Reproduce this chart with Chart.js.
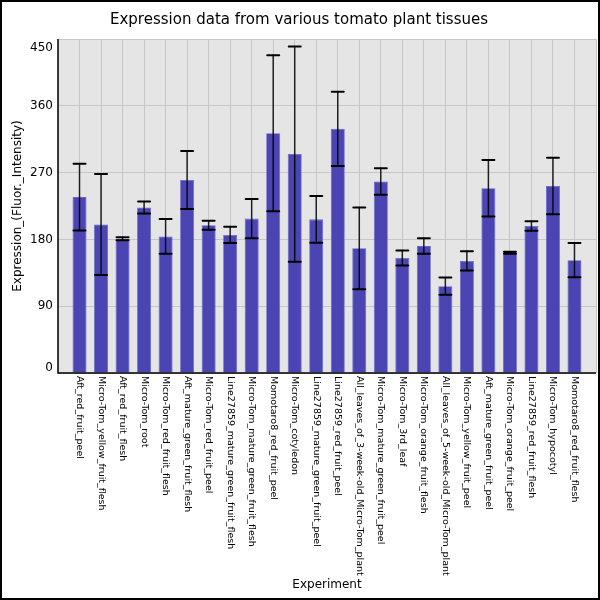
<!DOCTYPE html>
<html>
<head>
<meta charset="utf-8">
<script src="https://cdn.jsdelivr.net/npm/chart.js@4/dist/chart.umd.min.js"></script>
<style>
  body { margin: 0; background: #fff; }
  #wrap { width: 600px; height: 600px; }
</style>
</head>
<body>
<div id="wrap"><canvas id="grafica" width="600" height="600"></canvas></div>
<script>
// datos
const experimentos = [
  "Aft_red_fruit_peel", "Micro-Tom_yellow_fruit_flesh", "Aft_red_fruit_flesh",
  "Micro-Tom_root", "Micro-Tom_red_fruit_flesh", "Aft_mature_green_fruit_flesh",
  "Micro-Tom_red_fruit_peel", "Line27859_mature_green_fruit_flesh",
  "Micro-Tom_mature_green_fruit_flesh", "Momotaro8_red_fruit_peel",
  "Micro-Tom_cotyledon", "Line27859_mature_green_fruit_peel",
  "Line27859_red_fruit_peel", "All_leaves_of_3-week-old_Micro-Tom_plant",
  "Micro-Tom_mature_green_fruit_peel", "Micro-Tom_3rd_leaf",
  "Micro-Tom_orange_fruit_flesh", "All_leaves_of_5-week-old_Micro-Tom_plant",
  "Micro-Tom_yellow_fruit_peel", "Aft_mature_green_fruit_peel",
  "Micro-Tom_orange_fruit_peel", "Line27859_red_fruit_flesh",
  "Micro-Tom_hypocotyl", "Momotaro8_red_fruit_flesh"
];
const valores = [237, 200, 181, 223, 184, 260, 199, 186, 208, 323, 295, 207,
                 329, 168, 258, 155, 171, 117, 151, 249, 162, 198, 252, 152];
const errores = [45, 68, 2, 8, 23.5, 39, 6, 11, 26.5, 105, 145, 31.5,
                 50, 55, 18, 10, 10.5, 11.5, 13, 38, 1.2, 6.5, 38, 23];
const ticksY = [0, 90, 180, 270, 360, 450];

const fuente = "'DejaVu Sans', sans-serif";

// fondo, marco y area del grafico
const fondoPlugin = {
  id: "fondo",
  beforeDraw(chart) {
    const ctx = chart.ctx;
    const a = chart.chartArea;
    ctx.save();
    ctx.fillStyle = "#ffffff";
    ctx.fillRect(0, 0, chart.width, chart.height);
    ctx.fillStyle = "#e5e5e5";
    ctx.fillRect(a.left, a.top, a.right - a.left, a.bottom - a.top);
    ctx.restore();
  },
  afterDraw(chart) {
    const ctx = chart.ctx;
    ctx.save();
    ctx.strokeStyle = "#000";
    ctx.lineWidth = 2;
    ctx.strokeRect(1, 1, chart.width - 2, chart.height - 2);
    ctx.restore();
  }
};

// barras de error, ejes y etiquetas
const errorPlugin = {
  id: "errores",
  afterDatasetsDraw(chart) {
    const ctx = chart.ctx;
    const y = chart.scales.y;
    const x = chart.scales.x;
    const a = chart.chartArea;
    const meta = chart.getDatasetMeta(0);
    ctx.save();
    meta.data.forEach((bar, i) => {
      const yTop = y.getPixelForValue(valores[i] + errores[i]);
      const yBot = y.getPixelForValue(valores[i] - errores[i]);
      ctx.strokeStyle = "rgba(0,0,0,0.85)";
      ctx.lineWidth = 1.5;
      ctx.beginPath();
      ctx.moveTo(bar.x, yTop);
      ctx.lineTo(bar.x, yBot);
      ctx.stroke();
      ctx.strokeStyle = "#000";
      ctx.lineWidth = 2;
      ctx.lineCap = "round";
      ctx.beginPath();
      ctx.moveTo(bar.x - 6, yTop); ctx.lineTo(bar.x + 6, yTop);
      ctx.moveTo(bar.x - 6, yBot); ctx.lineTo(bar.x + 6, yBot);
      ctx.stroke();
    });

    // ejes
    ctx.strokeStyle = "#000";
    ctx.lineWidth = 1.5;
    ctx.lineCap = "butt";
    ctx.beginPath();
    ctx.moveTo(a.left, a.top);
    ctx.lineTo(a.left, a.bottom);
    ctx.lineTo(a.right, a.bottom);
    ctx.stroke();

    // etiquetas eje y
    ctx.fillStyle = "#000";
    ctx.font = "12px " + fuente;
    ctx.textAlign = "right";
    ticksY.forEach((v, i) => {
      let py = y.getPixelForValue(v);
      if (i === 0) { ctx.textBaseline = "bottom"; py += 1; }
      else if (i === ticksY.length - 1) { ctx.textBaseline = "top"; py += 3; }
      else ctx.textBaseline = "middle";
      ctx.fillText(String(v), a.left - 5, py);
    });

    // etiquetas eje x (giradas)
    ctx.font = "9.5px " + fuente;
    ctx.textAlign = "left";
    ctx.textBaseline = "middle";
    experimentos.forEach((nombre, i) => {
      const px = x.getPixelForValue(i);
      ctx.save();
      ctx.translate(px, a.bottom + 3);
      ctx.rotate(Math.PI / 2);
      ctx.fillText(nombre, 0, 0);
      ctx.restore();
    });
    ctx.restore();
  }
};

function prepararConfiguracion() {
  const puntos = experimentos.map((e, i) => ({ x: i, y: valores[i] }));
  return {
    type: "bar",
    data: {
      datasets: [{
        label: "Expression",
        data: puntos,
        backgroundColor: "#4b45b4",
        borderColor: "#6763c2",
        borderWidth: 0.8,
        barPercentage: 0.65,
        categoryPercentage: 1
      }]
    },
    options: {
      responsive: false,
      devicePixelRatio: 1,
      animation: false,
      layout: { padding: { left: 2, right: 4, top: 0, bottom: 0 } },
      plugins: {
        legend: { display: false },
        tooltip: { enabled: false },
        title: {
          display: true,
          text: "Expression data from various tomato plant tissues",
          color: "#000",
          font: { family: fuente, size: 15, weight: "normal" },
          padding: { top: 11, bottom: 10 }
        }
      },
      scales: {
        x: {
          type: "linear",
          min: -1,
          max: 24,
          offset: false,
          ticks: { display: false, stepSize: 1 },
          grid: { color: "#c6c6c6", lineWidth: 1, drawTicks: false, offset: false },
          border: { display: false },
          title: {
            display: true,
            text: "Experiment",
            color: "#000",
            font: { family: fuente, size: 12 },
            padding: { top: 0, bottom: 8 }
          },
          afterFit(s) { s.height = 227; }
        },
        y: {
          min: 0,
          max: 450,
          ticks: { display: false, stepSize: 90 },
          grid: { color: "#c6c6c6", lineWidth: 1, drawTicks: false },
          border: { display: false },
          title: {
            display: true,
            text: "Expression_(Fluor._Intensity)",
            color: "#000",
            font: { family: fuente, size: 12 },
            padding: { top: 9, bottom: 0 }
          },
          afterFit(s) { s.width = 56; }
        }
      }
    },
    plugins: [fondoPlugin, errorPlugin]
  };
}

function renderGrafica() {
  const config = prepararConfiguracion();
  const chartDOM = document.getElementById("grafica");
  new Chart(chartDOM, config);
}

renderGrafica();
</script>
</body>
</html>
